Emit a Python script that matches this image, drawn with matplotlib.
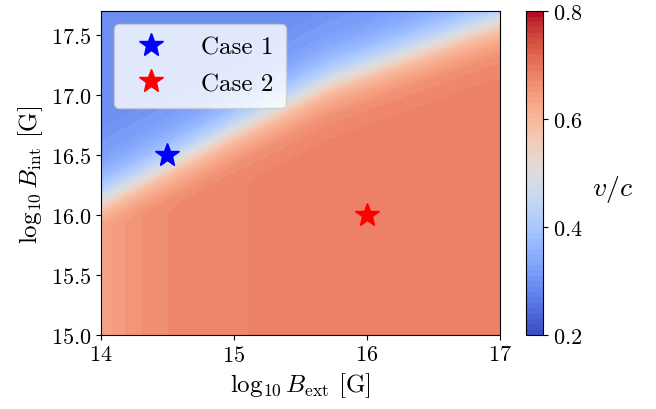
import numpy as np
import matplotlib
matplotlib.use("Agg")
import matplotlib.pyplot as plt

plt.rcParams['font.family'] = 'serif'
plt.rcParams['font.serif'] = ['cmr10']
plt.rcParams['mathtext.fontset'] = 'cm'
plt.rcParams['axes.formatter.use_mathtext'] = True

# grid of v/c
b_ext = [14.0, 14.17, 14.34, 14.51, 14.68, 14.85, 15.02, 15.2, 15.38, 15.55, 15.73,
         15.98, 16.23, 16.48, 16.73, 17.0]
b_int = [15.0, 15.4, 15.82, 15.92, 16.02, 16.12, 16.22, 16.32, 16.42, 16.52, 16.62, 16.72,
         16.82, 16.92, 17.02, 17.12, 17.22, 17.32, 17.42, 17.52, 17.62, 17.72]
v_c = [
    [.632, .649, .663, .670, .675, .677, .679, .681, .683, .685, .685, .685, .685, .685, .685, .685],
    [.632, .649, .663, .670, .675, .677, .679, .681, .683, .685, .685, .685, .685, .685, .685, .685],
    [.632, .649, .663, .670, .675, .677, .679, .681, .683, .685, .685, .685, .685, .685, .685, .685],
    [.632, .649, .663, .670, .675, .677, .679, .681, .683, .685, .685, .685, .685, .685, .685, .685],
    [.590, .635, .662, .670, .675, .677, .679, .681, .683, .685, .685, .685, .685, .685, .685, .685],
    [.500, .590, .635, .662, .675, .677, .679, .681, .683, .685, .685, .685, .685, .685, .685, .685],
    [.420, .500, .590, .635, .662, .675, .679, .681, .683, .685, .685, .685, .685, .685, .685, .685],
    [.370, .420, .500, .590, .635, .662, .675, .681, .683, .685, .685, .685, .685, .685, .685, .685],
    [.340, .370, .420, .500, .590, .635, .662, .675, .681, .685, .685, .685, .685, .685, .685, .685],
    [.320, .340, .370, .420, .500, .590, .635, .662, .675, .681, .685, .685, .685, .685, .685, .685],
    [.310, .320, .340, .370, .420, .500, .590, .635, .662, .675, .681, .685, .685, .685, .685, .685],
    [.300, .310, .320, .340, .370, .420, .500, .590, .635, .662, .675, .681, .685, .685, .685, .685],
    [.300, .300, .310, .320, .340, .370, .420, .500, .590, .635, .662, .675, .681, .685, .685, .685],
    [.300, .300, .300, .310, .320, .340, .370, .420, .500, .590, .635, .662, .675, .681, .685, .685],
    [.300, .300, .300, .300, .310, .320, .340, .370, .420, .500, .590, .635, .662, .675, .681, .685],
    [.300, .300, .300, .300, .300, .310, .320, .340, .370, .420, .500, .590, .635, .662, .675, .681],
    [.300, .300, .300, .300, .300, .300, .310, .320, .340, .370, .420, .500, .590, .635, .662, .675],
    [.300, .300, .300, .300, .300, .300, .300, .310, .320, .340, .370, .420, .500, .590, .635, .662],
    [.300, .300, .300, .300, .300, .300, .300, .300, .310, .320, .340, .370, .420, .500, .590, .635],
    [.300, .300, .300, .300, .300, .300, .300, .300, .300, .310, .320, .340, .370, .420, .500, .590],
    [.300, .300, .300, .300, .300, .300, .300, .300, .300, .300, .310, .320, .340, .370, .420, .500],
    [.300, .300, .300, .300, .300, .300, .300, .300, .300, .300, .300, .310, .320, .340, .370, .420],
]

case_names = ['Case 1', 'Case 2']
case_x = [14.5, 16.0]
case_y = [16.5, 16.0]
case_colors = ['blue', 'red']

fig = plt.figure(figsize=(6.56, 4.1), dpi=100)
ax = fig.add_axes([0.154, 0.180, 0.608, 0.790])
cax = fig.add_axes([0.802, 0.180, 0.026, 0.790])

levels = np.linspace(0.2, 0.8, 61)
cs = ax.contourf(b_ext, b_int, np.array(v_c), levels=levels, cmap='coolwarm', vmin=0.2, vmax=0.8)

for name, x, y, c in zip(case_names, case_x, case_y, case_colors):
    ax.plot(x, y, marker='*', color=c, ms=18, ls='none', label=name)

ax.set_xlim(14, 17)
ax.set_ylim(15, 17.7)
ax.set_xticks([14, 15, 16, 17])
ax.set_yticks([15.0, 15.5, 16.0, 16.5, 17.0, 17.5])
ax.tick_params(labelsize=16)
ax.set_xlabel(r'$\log_{10} B_{\rm ext}$ [G]', fontsize=18)
ax.set_ylabel(r'$\log_{10} B_{\rm int}$ [G]', fontsize=18)

ax.legend(loc='upper left', fontsize=18, handletextpad=1.0, borderpad=0.5,
          labelspacing=0.55, framealpha=0.8)

cb = fig.colorbar(cs, cax=cax)
cb.set_ticks([0.2, 0.4, 0.6, 0.8])
cb.ax.tick_params(labelsize=16)
cb.set_label(r'$v/c$', fontsize=20, rotation=0, labelpad=22)

fig.savefig('out.png', dpi=100)
